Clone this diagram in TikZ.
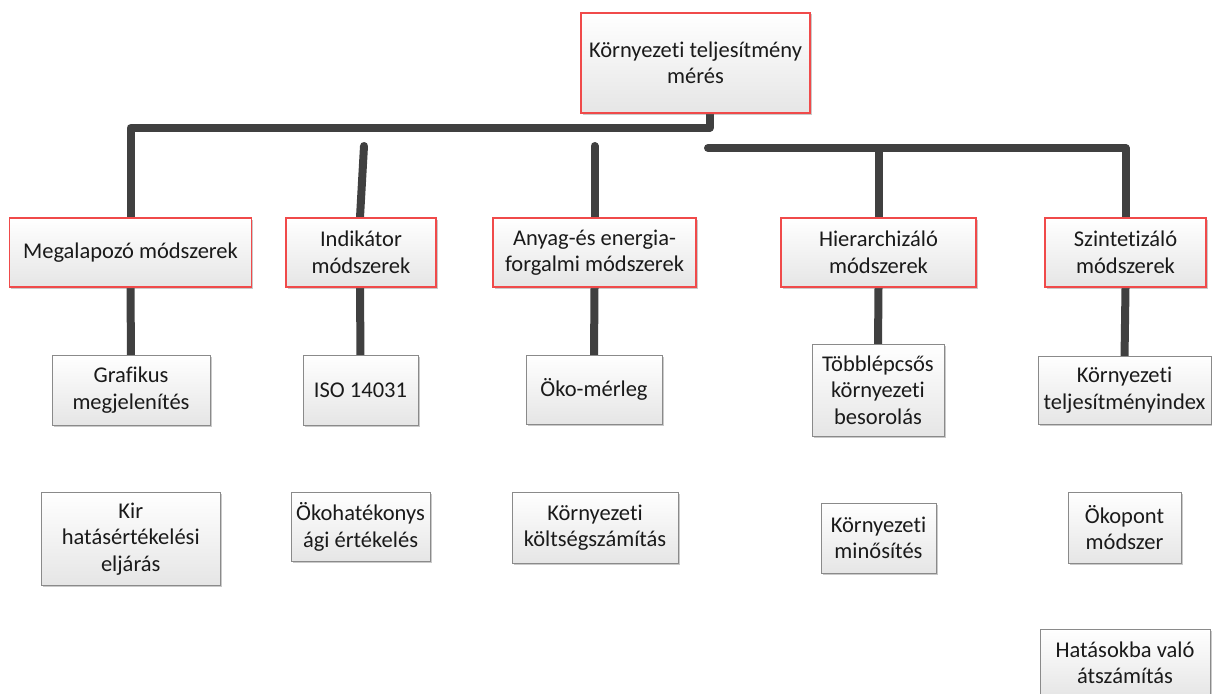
\documentclass[tikz,border=0pt]{standalone}
\usepackage{fontspec}
\setmainfont{Carlito}[RawFeature={-liga;-clig;-calt;-dlig}]
\usetikzlibrary{shadows,backgrounds}
\definecolor{redb}{HTML}{F04A4A}
\definecolor{grayb}{HTML}{8A8A8A}
\definecolor{linec}{HTML}{404040}
\definecolor{txt}{HTML}{1A1A1A}
\begin{document}
\begin{tikzpicture}[x=1pt,y=-1pt,
  basebox/.style={rectangle, inner sep=0pt, align=center, text=txt,
    font=\fontsize{22.5}{26.5}\selectfont,
    top color=white, bottom color=black!10,
    drop shadow={shadow xshift=1.5pt, shadow yshift=-1.5pt, opacity=0.35, fill=black!60}},
  redbox/.style={basebox, draw=redb, line width=1.3pt},
  graybox/.style={basebox, draw=grayb, line width=1pt},
  conn/.style={draw=linec, line width=8pt, line cap=round, line join=round}]
\useasboundingbox (0,0) rectangle (1212,693);
% top
\node[redbox, minimum width=229pt, minimum height=100pt] (top) at (695.5,63) {Környezeti teljesítmény\\mérés};
% row 1
\node[redbox, minimum width=242pt, minimum height=69pt] (meg) at (130.5,252.5) {Megalapozó módszerek};
\node[redbox, minimum width=150pt, minimum height=69pt] (ind) at (361,252.5) {Indikátor\\módszerek};
\node[redbox, minimum width=203pt, minimum height=69pt] (any) at (594.5,252.5) {Anyag-és energia-\\forgalmi módszerek};
\node[redbox, minimum width=195pt, minimum height=69pt] (hier) at (878.5,252.5) {Hierarchizáló\\módszerek};
\node[redbox, minimum width=161pt, minimum height=69pt] (szin) at (1125.5,252.5) {Szintetizáló\\módszerek};
% row 2
\node[graybox, minimum width=158pt, minimum height=70pt] (graf) at (131,390) {Grafikus\\megjelenítés};
\node[graybox, minimum width=115pt, minimum height=70pt] (iso) at (360.5,390) {ISO 14031};
\node[graybox, minimum width=136pt, minimum height=69pt] (oko) at (594,389.5) {Öko-mérleg};
\node[graybox, minimum width=132pt, minimum height=92pt] (tobb) at (878,390) {Többlépcsős\\környezeti\\besorolás};
\node[graybox, minimum width=173pt, minimum height=68pt] (ktind) at (1124.5,390) {Környezeti\\teljesítményindex};
% row 3
\node[graybox, minimum width=178.5pt, minimum height=92.5pt] (kir) at (130.75,538.75) {Kir\\hatásértékelési\\eljárás};
\node[graybox, minimum width=139pt, minimum height=69pt] (okoh) at (360.5,527) {Ökohatékonys\\ági értékelés};
\node[graybox, minimum width=166pt, minimum height=71pt] (kolt) at (595,527.5) {Környezeti\\költségszámítás};
\node[graybox, minimum width=115pt, minimum height=70pt] (minos) at (878.5,538) {Környezeti\\minősítés};
\node[graybox, minimum width=113pt, minimum height=71pt] (okop) at (1124.5,527.5) {Ökopont\\módszer};
% row 4
\node[graybox, minimum width=170pt, minimum height=68pt] (hat) at (1125,663) {Hatásokba való\\átszámítás};
% connectors
\coordinate (h1) at (130.5,128);
\coordinate (h2) at (708,148);
\coordinate (h3) at (364,146);
\coordinate (h4) at (594.5,146);
\begin{pgfonlayer}{background}
\draw[conn] ([xshift=14pt]top.south) |- (h1) -- (meg.north);
\draw[conn] (h2) -| (szin.north);
\draw[conn] (hier.north |- h2) -- (hier.north);
\draw[conn] (h3) -- ([xshift=-1pt]ind.north);
\draw[conn] (h4) -- (any.north);
\draw[conn] (meg.south) -- ([yshift=-3pt]graf.north);
\draw[conn] ([xshift=-1pt]ind.south) -- ([yshift=-3pt]iso.north);
\draw[conn] (any.south) -- ([yshift=-3pt]oko.north);
\draw[conn] (hier.south) -- ([yshift=-3pt]tobb.north);
\draw[conn] (szin.south) -- ([yshift=-3pt]ktind.north);
\end{pgfonlayer}
\end{tikzpicture}
\end{document}
